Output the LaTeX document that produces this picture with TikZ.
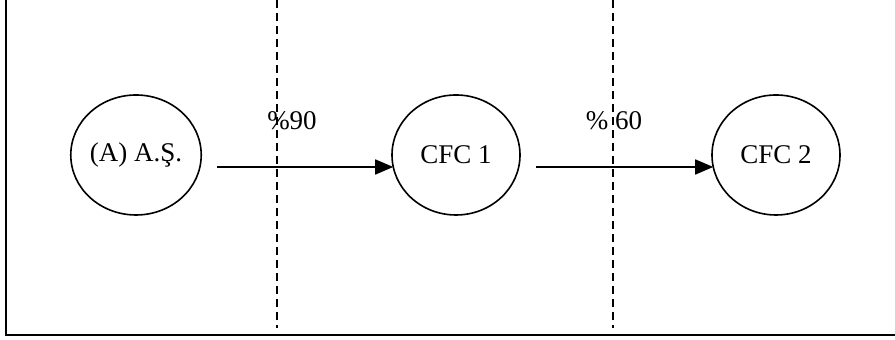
\documentclass[tikz,border=0pt]{standalone}
\usepackage{fontspec}
\setmainfont{Liberation Serif}
\usetikzlibrary{positioning,arrows.meta,shapes.geometric,calc}
\tikzset{
  own-circle/.style={
    draw=black, line width=0.8pt, ellipse,
    minimum width=64pt, minimum height=60pt, inner sep=0pt,
    font=\fontsize{13.5}{15}\selectfont
  },
  own-flow/.style={-{Triangle[length=9pt,width=7.5pt]}, line width=0.8pt, draw=black},
  own-cut/.style={line width=0.8pt, dash pattern=on 4pt off 2.5pt},
  own-label/.style={font=\fontsize{13.5}{15}\selectfont, inner sep=1pt}
}
\begin{document}
\begin{tikzpicture}[x=0.5pt, y=-0.5pt]
\useasboundingbox (0,0) rectangle (895,340);
% frame
\coordinate (ftop) at (6,0);
\coordinate (fcorner) at (6,335);
\coordinate (fright) at (895,335);
\draw[line width=1.1pt] (ftop) -- (fcorner) -- (fright);

% borders
\coordinate (cut1top) at (277,0);
\coordinate (cut1bot) at (277,328);
\coordinate (cut2top) at (613,0);
\coordinate (cut2bot) at (613,328);
\draw[own-cut] (cut1top) -- (cut1bot);
\draw[own-cut] (cut2top) -- (cut2bot);

% companies
\node[own-circle] (parent) at (136,155) {(A) A.Ş.};
\node[own-circle] (cfc1) at (456,155) {CFC 1};
\node[own-circle] (cfc2) at (776,155) {CFC 2};

% shares
\node[own-label] (share1) at (292,121) {\%90};
\node[own-label] (share2) at (614,121) {\% 60};

\draw[own-flow] ([xshift=7.5pt,yshift=-6pt]parent.east) -- ([xshift=1pt,yshift=-6pt]cfc1.west);
\draw[own-flow] ([xshift=7.5pt,yshift=-6pt]cfc1.east) -- ([xshift=1pt,yshift=-6pt]cfc2.west);
\end{tikzpicture}
\end{document}
